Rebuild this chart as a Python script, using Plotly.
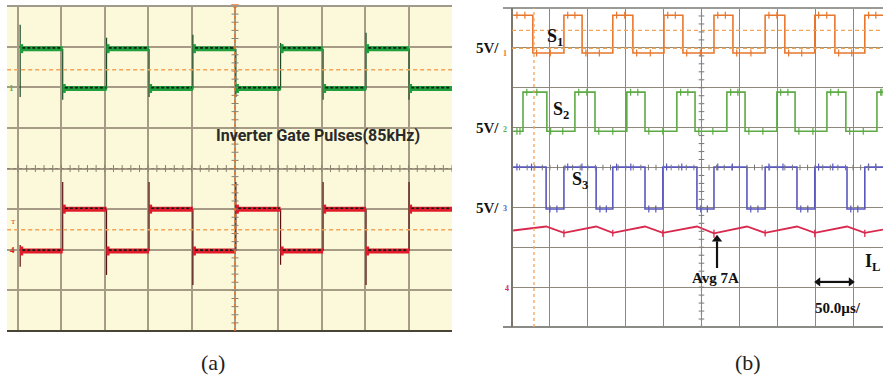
import plotly.graph_objects as go

W, H = 883, 381

# ---------------- data: panel (a) (units: scope divisions) ----------------
A_EDGES = [0.05, 1.03, 2.04, 3.02, 4.03, 5.02, 6.05, 7.03, 8.02, 9.01, 10.0]
A_GREEN_LEVELS = [6.95, 5.97, 6.95, 5.97, 6.95, 5.97, 6.95, 5.97, 6.95, 5.97]
A_RED_LEVELS = [1.97, 3.00, 1.97, 3.00, 1.97, 3.00, 1.97, 3.00, 1.97, 3.00]
A_GREEN_SPK_HI = [7.54, 6.95, 7.22, 6.95, 7.29, 6.95, 7.09, 6.95, 7.34, 6.95]
A_GREEN_SPK_LO = [5.76, 5.69, 5.94, 5.76, 5.94, 5.76, 5.94, 5.69, 5.94, 5.69]
A_RED_SPK_HI = [2.12, 3.67, 3.00, 3.67, 3.00, 3.67, 3.00, 3.67, 3.00, 3.67]
A_RED_SPK_LO = [1.58, 1.97, 1.38, 1.97, 1.13, 1.97, 1.63, 1.97, 1.13, 1.97]
A_REF_LEVELS = [6.43, 2.49]

# ---------------- data: panel (b) ----------------
B_END = 9.79
S1_T = [0.03, 0.55, 1.37, 1.85, 2.66, 3.19, 4.01, 4.51, 5.33, 5.83, 6.68, 7.20, 7.99, 8.52, 9.31]
S1_V = [7.82, 6.87, 7.82, 6.87, 7.82, 6.87, 7.82, 6.87, 7.82, 6.87, 7.82, 6.87, 7.82, 6.87, 7.82]
S2_T = [0.03, 0.29, 0.92, 1.66, 2.19, 3.03, 3.51, 4.35, 4.83, 5.67, 6.15, 6.99, 7.47, 8.31, 8.81, 9.63]
S2_V = [4.91, 5.89, 4.91, 5.89, 4.91, 5.89, 4.91, 5.89, 4.91, 5.89, 4.91, 5.89, 4.91, 5.89, 4.91, 5.89]
S3_T = [0.03, 0.90, 1.37, 2.22, 2.66, 3.51, 3.98, 4.88, 5.33, 6.20, 6.68, 7.52, 7.99, 8.84, 9.31]
S3_V = [4.01, 2.96, 4.01, 2.96, 4.01, 2.96, 4.01, 2.96, 4.01, 2.96, 4.01, 2.96, 4.01, 2.96, 4.01]
IL_T = [0.03, 0.90, 1.37, 2.22, 2.66, 3.51, 3.98, 4.88, 5.33, 6.20, 6.68, 7.52, 7.99, 8.84, 9.31, 9.79]
IL_V = [2.42, 2.52, 2.36, 2.52, 2.36, 2.52, 2.36, 2.52, 2.35, 2.52, 2.36, 2.52, 2.36, 2.52, 2.36, 2.44]
IL_SPIKE_T = [1.37, 2.66, 3.98, 5.33, 6.68, 7.99, 9.31]
IL_SPIKE_LO = [2.25, 2.27, 2.26, 2.24, 2.27, 2.25, 2.26]
B_REF_LEVELS = [7.44, 6.99]

# ---------------- colours ----------------
YELLOW = "#FBF9DA"
GRID_A = "#A69C86"
GRID_B = "#8E897C"
GREEN_A = "#1FA03C"
RED_A = "#E21B2B"
ORANGE = "#E8772E"
ORANGE_DASH = "#F2A457"
GREEN_B = "#5DAA45"
BLUE_B = "#5A58BE"
RED_B = "#D82A4E"


def px(x):
    return x / W


def py(y):
    return 1 - y / H


fig = go.Figure()


def seg_trace(xs, ys, color, width, xa, ya, dash=None):
    fig.add_trace(go.Scatter(x=xs, y=ys, mode="lines", xaxis=xa, yaxis=ya,
                             line=dict(color=color, width=width, dash=dash), hoverinfo="skip"))


# ---------- panel (a) traces ----------
for levels, col, dark, lo, hi in [
    (A_GREEN_LEVELS, GREEN_A, "#1B4A25", A_GREEN_SPK_LO, A_GREEN_SPK_HI),
    (A_RED_LEVELS, RED_A, "#5A1010", A_RED_SPK_LO, A_RED_SPK_HI),
]:
    sx, sy = [], []
    for i in range(len(lo)):
        sx += [A_EDGES[i], A_EDGES[i], None]
        sy += [lo[i], hi[i], None]
    seg_trace(sx, sy, dark, 1.2, "x", "y")
    fz_x, fz_y, bx, by, cx, cy = [], [], [], [], [], []
    for i, lv in enumerate(levels):
        fz_x += [A_EDGES[i], A_EDGES[i] + 0.07, None]
        fz_y += [lv, lv, None]
        bx += [A_EDGES[i], A_EDGES[i + 1], None]
        by += [lv, lv, None]
        cx += [A_EDGES[i] + 0.05, A_EDGES[i + 1] - 0.02, None]
        cy += [lv + 0.02, lv + 0.02, None]
    seg_trace(fz_x, fz_y, col, 9, "x", "y")
    seg_trace(bx, by, col, 5, "x", "y")
    seg_trace(cx, cy, "#15201A", 1.6, "x", "y", dash="3px,2px")

# center-line tick marks (a)
ticks_a = [i * 0.2 for i in range(0, 51)]
fig.add_trace(go.Scatter(x=ticks_a, y=[4] * len(ticks_a), mode="markers", xaxis="x", yaxis="y",
                         marker=dict(symbol="line-ns", size=5, line=dict(color="#8A8070", width=1)),
                         hoverinfo="skip"))
ticks_av = [i * 0.2 for i in range(0, 41)]
fig.add_trace(go.Scatter(x=[5] * len(ticks_av), y=ticks_av, mode="markers", xaxis="x", yaxis="y",
                         marker=dict(symbol="line-ew", size=5, line=dict(color="#8A8070", width=1)),
                         hoverinfo="skip"))
fig.add_trace(go.Scatter(x=[5], y=[8], mode="markers", xaxis="x", yaxis="y", cliponaxis=False,
                         marker=dict(symbol="triangle-down", size=7, color=ORANGE), hoverinfo="skip"))

# ---------- panel (b) traces ----------
for t, v, col in [(S1_T, S1_V, ORANGE), (S2_T, S2_V, GREEN_B), (S3_T, S3_V, BLUE_B)]:
    fig.add_trace(go.Scatter(x=t + [B_END], y=v + [v[-1]], mode="lines", line_shape="hv",
                             xaxis="x2", yaxis="y2", line=dict(color=col, width=1.6),
                             hoverinfo="skip"))
    mx, my = [], []
    for i in range(len(t)):
        nxt = t[i + 1] if i + 1 < len(t) else B_END
        mx += [t[i] + 0.1, (t[i] + nxt) / 2 + 0.05]
        my += [v[i]] * 2
    fig.add_trace(go.Scatter(x=mx, y=my, mode="markers", xaxis="x2", yaxis="y2",
                             marker=dict(symbol="line-ns", size=5, line=dict(color=col, width=1.2)),
                             hoverinfo="skip"))

fig.add_trace(go.Scatter(x=IL_T, y=IL_V, mode="lines", xaxis="x2", yaxis="y2",
                         line=dict(color=RED_B, width=1.8), hoverinfo="skip"))
sx, sy = [], []
for t, lo in zip(IL_SPIKE_T, IL_SPIKE_LO):
    sx += [t, t, None]
    sy += [lo, 2.44, None]
seg_trace(sx, sy, RED_B, 1.3, "x2", "y2")
ticks_b = [i * 0.2 for i in range(0, 49)]
fig.add_trace(go.Scatter(x=[5] * 41, y=[i * 0.2 for i in range(41)], mode="markers",
                         xaxis="x2", yaxis="y2",
                         marker=dict(symbol="line-ew", size=4, line=dict(color="#777", width=1)),
                         hoverinfo="skip"))
fig.add_trace(go.Scatter(x=ticks_b, y=[4] * len(ticks_b), mode="markers", xaxis="x2", yaxis="y2",
                         marker=dict(symbol="line-ns", size=4, line=dict(color="#777", width=1)),
                         hoverinfo="skip"))
# arrows (b)
seg_trace([5.41, 5.41], [1.48, 2.15], "#111", 2.2, "x2", "y2")
fig.add_trace(go.Scatter(x=[5.41], y=[2.2], mode="markers", xaxis="x2", yaxis="y2",
                         marker=dict(symbol="triangle-up", size=9, color="#111"), hoverinfo="skip"))
seg_trace([8.12, 8.9], [1.13, 1.13], "#111", 2.2, "x2", "y2")
fig.add_trace(go.Scatter(x=[8.08, 8.94], y=[1.13, 1.13], mode="markers", xaxis="x2", yaxis="y2",
                         marker=dict(symbol=["triangle-left", "triangle-right"], size=8, color="#111"),
                         hoverinfo="skip"))

# ---------- shapes ----------
shapes = []
shapes.append(dict(type="rect", xref="paper", yref="paper", x0=px(7), x1=px(452), y0=py(331), y1=py(5),
                   fillcolor=YELLOW, line=dict(width=0), layer="below"))
shapes.append(dict(type="line", xref="paper", yref="paper", x0=px(7), x1=px(452), y0=py(331), y1=py(331),
                   line=dict(color="#4A4436", width=2)))
shapes.append(dict(type="line", xref="paper", yref="paper", x0=px(7), x1=px(452), y0=py(6), y1=py(6),
                   line=dict(color="#A09A8C", width=2)))
for lv in A_REF_LEVELS:
    shapes.append(dict(type="line", xref="x", yref="y", x0=-0.25, x1=10, y0=lv, y1=lv,
                       line=dict(color=ORANGE_DASH, width=1.5, dash="4px,3px")))
shapes.append(dict(type="line", xref="x", yref="y", x0=5, x1=5, y0=0, y1=8,
                   line=dict(color=ORANGE, width=1.5, dash="dot")))
shapes.append(dict(type="line", xref="x", yref="y", x0=-0.25, x1=10, y0=4, y1=4,
                   line=dict(color="#8A8070", width=1.2, dash="dot")))
shapes.append(dict(type="line", xref="paper", yref="paper", x0=px(503), x1=1, y0=py(327), y1=py(327),
                   line=dict(color="#8A8A86", width=2)))
shapes.append(dict(type="line", xref="paper", yref="paper", x0=px(503), x1=1, y0=py(8), y1=py(8),
                   line=dict(color="#9A9A96", width=2)))
shapes.append(dict(type="line", xref="paper", yref="paper", x0=px(512), x1=px(512), y0=py(327), y1=py(8),
                   line=dict(color="#7A766C", width=2)))
for lv in B_REF_LEVELS:
    shapes.append(dict(type="line", xref="x2", yref="y2", x0=0, x1=B_END, y0=lv, y1=lv,
                       line=dict(color=ORANGE_DASH, width=1.3, dash="4px,3px")))
shapes.append(dict(type="line", xref="x2", yref="y2", x0=0.58, x1=0.58, y0=0, y1=8,
                   line=dict(color=ORANGE_DASH, width=1.3, dash="3px,3px")))
shapes.append(dict(type="line", xref="x2", yref="y2", x0=5, x1=5, y0=0, y1=8,
                   line=dict(color="#888", width=1.2, dash="dot")))

# ---------- annotations ----------
ann = []


def text(t, x, y, size, family, color="#111", bold=False, xanchor="center"):
    ann.append(dict(text=t, x=px(x), y=py(y), xref="paper", yref="paper", showarrow=False,
                    xanchor=xanchor, yanchor="middle",
                    font=dict(size=size, family=family, color=color,
                              weight="bold" if bold else "normal")))


SERIF = "Liberation Serif, Times New Roman, serif"
text("Inverter Gate Pulses(85kHz)", 318, 135, 16, "Liberation Sans Narrow, Roboto, sans-serif",
     color="#2A2A2A", bold=True)
text("(a)", 213, 362, 22, SERIF, color="#222")
text("(b)", 748, 362, 22, SERIF, color="#222")
for yy in [48, 128, 208]:
    text("5V/", 501, yy, 15, SERIF, bold=True, xanchor="right")
text("S<sub>1</sub>", 555, 37, 18, SERIF, bold=True)
text("S<sub>2</sub>", 561, 110, 18, SERIF, bold=True)
text("S<sub>3</sub>", 580, 180, 18, SERIF, bold=True)
text("I<sub>L</sub>", 872, 262, 18, SERIF, bold=True)
text("Avg 7A", 715, 278, 15, SERIF, bold=True)
text("50.0µs/", 838, 308, 15, SERIF, bold=True)
# small channel glyphs
text("1", 505, 53, 8, SERIF, color=ORANGE, bold=True)
text("2", 505, 129, 8, SERIF, color=GREEN_B, bold=True)
text("3", 505, 208, 8, SERIF, color=BLUE_B, bold=True)
text("4", 507, 288, 8, SERIF, color=RED_B, bold=True)
text("1", 11, 88, 9, SERIF, color="#55B855", bold=True)
text("T", 14, 222, 7, SERIF, color=RED_A)
text("4", 12, 250, 9, SERIF, color=RED_A, bold=True)

axis_common = dict(showticklabels=False, ticks="", zeroline=False, showline=False, dtick=1, tick0=0,
                   fixedrange=True)
fig.update_layout(
    width=W, height=H,
    margin=dict(l=0, r=0, t=0, b=0),
    paper_bgcolor="white",
    plot_bgcolor="rgba(0,0,0,0)",
    showlegend=False,
    xaxis=dict(domain=[px(7), px(452)], range=[-11 / 43.4, 10], gridcolor=GRID_A, gridwidth=1.6,
               anchor="y", **axis_common),
    yaxis=dict(domain=[py(331), py(6)], range=[0, 8], gridcolor=GRID_A, gridwidth=1.6,
               anchor="x", **axis_common),
    xaxis2=dict(domain=[px(512), 1], range=[0, B_END], gridcolor=GRID_B, gridwidth=1.4,
                anchor="y2", **axis_common),
    yaxis2=dict(domain=[py(327), py(8)], range=[0, 8], gridcolor=GRID_B, gridwidth=1.4,
                anchor="x2", **axis_common),
    shapes=shapes,
    annotations=ann,
)

fig.write_html("out.html")
